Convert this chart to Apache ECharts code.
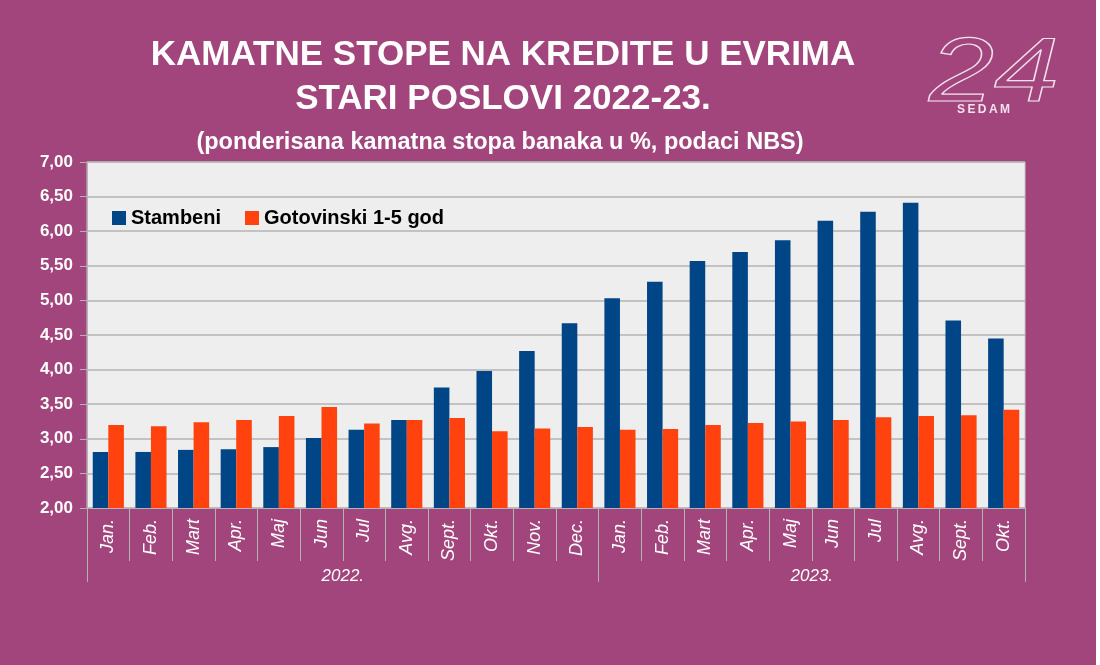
<!DOCTYPE html>
<html>
<head>
<meta charset="utf-8">
<title>Kamatne stope na kredite u evrima</title>
<script src="https://cdn.jsdelivr.net/npm/echarts@6/dist/echarts.min.js"></script>
<style>
  html, body { margin: 0; padding: 0; background: #ffffff; }
  #chart { width: 1100px; height: 665px; }
</style>
</head>
<body>
<div id="chart"></div>
<script>
// meseci (kategorije)
const months = ['Jan.', 'Feb.', 'Mart', 'Apr.', 'Maj', 'Jun', 'Jul', 'Avg.', 'Sept.', 'Okt.', 'Nov.', 'Dec.',
  'Jan.', 'Feb.', 'Mart', 'Apr.', 'Maj', 'Jun', 'Jul', 'Avg.', 'Sept.', 'Okt.']
const years = ['2022.', '2023.']
const yearMonths = [12, 10]

const stambeni = [2.81, 2.81, 2.84, 2.85, 2.88, 3.01, 3.13, 3.27, 3.74, 3.98, 4.27, 4.67,
  5.03, 5.27, 5.57, 5.70, 5.87, 6.15, 6.28, 6.41, 4.71, 4.45]
const gotovinski = [3.20, 3.18, 3.24, 3.27, 3.33, 3.46, 3.22, 3.27, 3.30, 3.11, 3.15, 3.17,
  3.13, 3.14, 3.20, 3.23, 3.25, 3.27, 3.31, 3.33, 3.34, 3.42]

const yTicks = { min: 2, max: 7, step: 0.5 }

// granice i sredine grupa po godinama
const yearBounds = [0]
const yearCenters = []
yearMonths.forEach(function (n, i) {
  yearCenters.push(yearBounds[i] + n / 2)
  yearBounds.push(yearBounds[i] + n)
})

const chart = echarts.init(document.getElementById('chart'))
const bg = '#a1457c'
const gridGray = '#b3b3b3'
const logoColor = '#f3e2ec'

const option = {
  backgroundColor: bg,
  textStyle: { fontFamily: 'Liberation Sans, Arial, sans-serif' },
  title: [
    {
      text: 'KAMATNE STOPE NA KREDITE U EVRIMA\nSTARI POSLOVI 2022-23.',
      left: 498,
      top: 28,
      textAlign: 'center',
      textStyle: { color: '#ffffff', fontSize: 35, fontWeight: 'bold', lineHeight: 44 }
    },
    {
      text: '(ponderisana kamatna stopa banaka u %, podaci NBS)',
      left: 495,
      top: 126,
      textAlign: 'center',
      textStyle: { color: '#ffffff', fontSize: 23.5, fontWeight: 'bold' }
    }
  ],
  legend: {
    left: 107,
    top: 203,
    icon: 'rect',
    itemWidth: 14,
    itemHeight: 14,
    itemGap: 24,
    textStyle: { color: '#000000', fontSize: 20, fontWeight: 'bold' },
    data: ['Stambeni', 'Gotovinski 1-5 god']
  },
  grid: {
    left: 87,
    right: 75,
    top: 162,
    bottom: 157,
    show: true,
    backgroundColor: '#eeeeee',
    borderColor: '#c8c8c8',
    borderWidth: 1
  },
  xAxis: [
    {
      type: 'category',
      data: months,
      axisLine: { lineStyle: { color: gridGray } },
      axisTick: { show: true, interval: 0, length: 53, lineStyle: { color: gridGray } },
      axisLabel: {
        interval: 0,
        rotate: 90,
        margin: 11,
        color: '#ffffff',
        fontSize: 18,
        fontStyle: 'italic'
      }
    },
    {
      type: 'value',
      position: 'bottom',
      min: 0,
      max: months.length,
      splitLine: { show: false },
      axisLine: { show: false },
      axisTick: { show: true, length: 74, customValues: yearBounds, lineStyle: { color: gridGray } },
      axisLabel: {
        customValues: yearCenters,
        margin: 60,
        color: '#ffffff',
        fontSize: 17,
        fontStyle: 'italic',
        formatter: function (v) {
          return years[yearCenters.indexOf(v)] || ''
        }
      }
    }
  ],
  yAxis: {
    type: 'value',
    min: yTicks.min,
    max: yTicks.max,
    interval: yTicks.step,
    axisLine: { show: true, lineStyle: { color: gridGray } },
    axisTick: { show: true, length: 7, lineStyle: { color: gridGray } },
    splitLine: { lineStyle: { color: gridGray, width: 1.5 } },
    axisLabel: {
      margin: 14,
      color: '#ffffff',
      fontSize: 17,
      fontWeight: 'bold',
      formatter: function (v) { return v.toFixed(2).replace('.', ',') }
    }
  },
  series: [
    {
      name: 'Stambeni',
      type: 'bar',
      xAxisIndex: 0,
      data: stambeni,
      itemStyle: { color: '#004586' },
      barGap: '0%',
      barCategoryGap: '27%'
    },
    {
      name: 'Gotovinski 1-5 god',
      type: 'bar',
      xAxisIndex: 0,
      data: gotovinski,
      itemStyle: { color: '#ff420e' },
      barGap: '0%',
      barCategoryGap: '27%'
    }
  ],
  graphic: [
    {
      // logo "24 SEDAM"
      type: 'text',
      x: 929,
      y: 31,
      scaleX: 1.3,
      style: {
        text: '24',
        font: 'italic 90px "Liberation Sans", Arial, sans-serif',
        textVerticalAlign: 'top',
        fill: 'rgba(0,0,0,0)',
        stroke: logoColor,
        lineWidth: 1.2
      }
    },
    {
      type: 'text',
      x: 957,
      y: 104,
      style: {
        text: 'S\u2009E\u2009D\u2009A\u2009M',
        font: 'bold 12px "Liberation Sans", Arial, sans-serif',
        textVerticalAlign: 'top',
        fill: logoColor
      }
    },
    {
      type: 'rect',
      right: 0,
      top: 0,
      shape: { width: 4, height: 665 },
      style: { fill: '#ffffff' }
    }
  ]
}

chart.setOption(option)
</script>
</body>
</html>
